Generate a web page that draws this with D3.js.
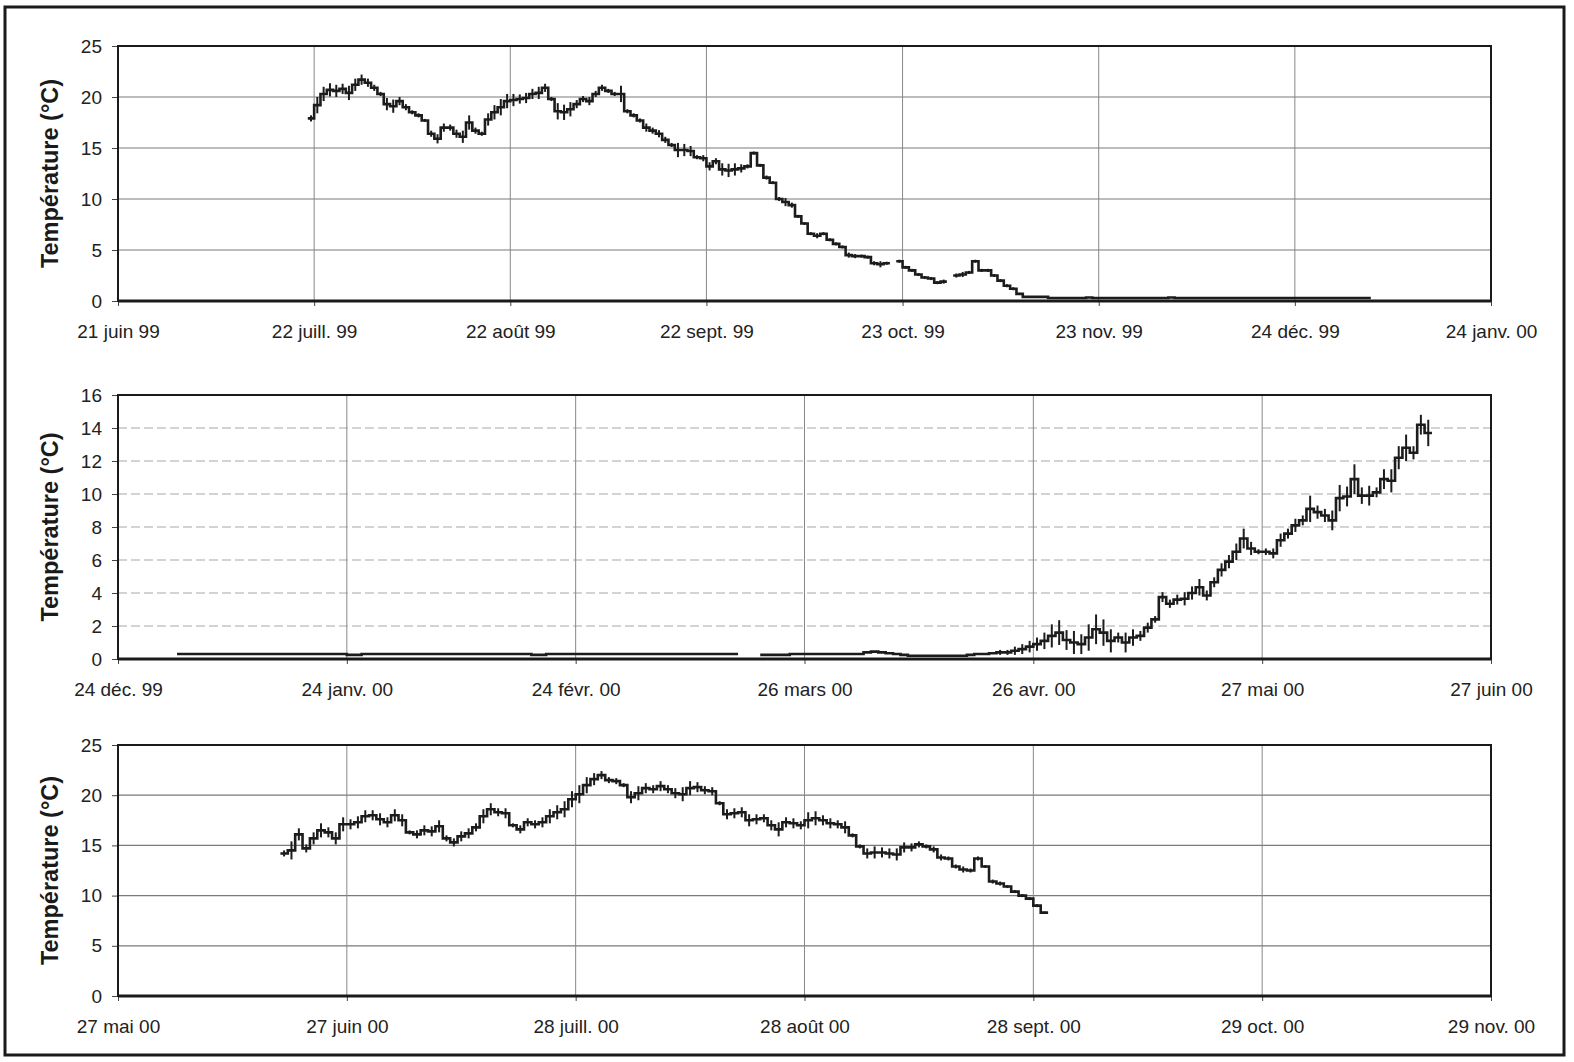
<!DOCTYPE html>
<html>
<head>
<meta charset="utf-8">
<script src="https://cdn.jsdelivr.net/npm/d3@7"></script>
<style>
  body { margin: 0; background: #fff; }
  svg { display: block; }
  .tick text { font-family: 'Liberation Sans', Arial, sans-serif; font-size: 19px; fill: #222; }
</style>
</head>
<body>
<svg id="vis" width="1574" height="1062"></svg>
<script>
// panel 1 : juillet 99 -> janvier 00, one value per day from p1Start
const p1Start = '1999-07-21';
const p1Mean = [
  17.9, 19.2, 20.3, 20.7, 20.6, 20.8, 20.4, 21.2, 21.7, 21.4,
  20.9, 20.3, 19.3, 19.1, 19.6, 19.0, 18.5, 18.2, 17.7, 16.4,
  15.9, 17.0, 17.0, 16.4, 16.1, 17.5, 16.7, 16.4, 17.8, 18.5,
  19.0, 19.6, 19.7, 19.8, 19.9, 20.3, 20.4, 20.9, 19.8, 18.6,
  18.5, 18.8, 19.3, 19.8, 19.6, 20.3, 20.9, 20.6, 20.3, 20.3,
  18.6, 18.2, 17.7, 17.0, 16.7, 16.4, 15.8, 15.3, 14.8, 14.8,
  14.7, 14.1, 14.0, 13.2, 13.7, 12.9, 12.8, 12.9, 13.0, 13.2,
  14.5, 13.3, 12.1, 11.6, 10.0, 9.7, 9.4, 8.3, 7.6, 6.6,
  6.4, 6.6, 6.0, 5.6, 5.3, 4.5, 4.4, 4.4, 4.3, 3.7,
  3.6, 3.7, null, 3.9, 3.3, 3.0, 2.6, 2.3, 2.2, 1.8,
  1.9, null, 2.5, 2.6, 2.8, 3.9, 3.0, 3.0, 2.5, 2.0,
  1.5, 1.2, 0.7, 0.4, 0.4, 0.4, 0.4, 0.3, 0.3, 0.3,
  0.3, 0.3, 0.3, 0.35, 0.3, 0.3, 0.3, 0.3, 0.3, 0.3,
  0.3, 0.3, 0.3, 0.3, 0.3, 0.3, 0.35, 0.3, 0.3, 0.3,
  0.3, 0.3, 0.3, 0.3, 0.3, 0.3, 0.3, 0.3, 0.3, 0.3,
  0.3, 0.3, 0.3, 0.3, 0.3, 0.3, 0.3, 0.3, 0.3, 0.3,
  0.3, 0.3, 0.3, 0.3, 0.3, 0.3, 0.3, 0.3
];
// daily min-max spread (°C), from p1Start
const p1Range = [
  0.6, 1.6, 1.4, 1.3, 1.2, 1.0, 1.4, 1.2, 1.0, 0.8,
  0.6, 0.4, 1.2, 1.3, 0.8, 0.6, 0.4, 0.4, 0.3, 0.6,
  0.9, 0.8, 0.6, 0.8, 1.2, 1.4, 0.6, 0.4, 1.2, 1.4,
  1.6, 1.4, 1.2, 0.9, 1.0, 1.0, 1.2, 0.8, 0.4, 1.6,
  1.5, 1.4, 0.8, 0.6, 0.8, 0.6, 0.6, 0.4, 0.4, 1.6,
  0.4, 0.4, 0.4, 0.8, 0.6, 0.7, 0.6, 0.4, 1.4, 1.2,
  1.0, 0.4, 0.6, 0.8, 0.6, 1.2, 1.3, 1.2, 0.8, 0.4,
  0.3, 0.3, 0.4, 0.3, 0.4, 0.8, 0.5, 0.3, 0.3, 0.3,
  0.5, 0.3, 0.3, 0.3, 0.3, 0.5, 0.4, 0.3, 0.3, 0.4,
  0.6, 0.3, 0, 0.3, 0.3, 0.3, 0.3, 0.3, 0.3, 0.3,
  0.4, 0, 0.4, 0.5, 0.3, 0.3, 0.3, 0.3, 0.3, 0.3,
  0.3, 0.3, 0.2
];
const p1TickDates = ['1999-06-21', '1999-07-22', '1999-08-22', '1999-09-22', '1999-10-23', '1999-11-23', '1999-12-24', '2000-01-24'];
const p1TickLabels = ['21 juin 99', '22 juill. 99', '22 août 99', '22 sept. 99', '23 oct. 99', '23 nov. 99', '24 déc. 99', '24 janv. 00'];
const p1YTicks = [0, 5, 10, 15, 20, 25];

// panel 2 : janvier 00 -> juin 00
const p2Start = '2000-01-01';
const p2Mean = [
  0.3, 0.3, 0.3,
  0.3, 0.3, 0.3, 0.3, 0.3, 0.3, 0.3, 0.3, 0.3, 0.3,
  0.3, 0.3, 0.3, 0.3, 0.3, 0.3, 0.3, 0.3, 0.3, 0.3,
  0.25, 0.25, 0.3, 0.3, 0.3, 0.3, 0.3, 0.3, 0.3, 0.3,
  0.3, 0.3, 0.3, 0.3, 0.3, 0.3, 0.3, 0.3, 0.3, 0.3,
  0.3, 0.3, 0.3, 0.3, 0.3, 0.25, 0.25, 0.3, 0.3, 0.3,
  0.3, 0.3, 0.3, 0.3, 0.3, 0.3, 0.3, 0.3, 0.3, 0.3,
  0.3, 0.3, 0.3, 0.3, 0.3, 0.3, 0.3, 0.3, 0.3, 0.3,
  0.3, 0.3, 0.3, null, null, null, 0.25, 0.25, 0.25, 0.25,
  0.3, 0.3, 0.3, 0.3, 0.3, 0.3, 0.3, 0.3, 0.3, 0.3,
  0.4, 0.45, 0.4, 0.35, 0.3, 0.25, 0.2, 0.2, 0.2, 0.2,
  0.2, 0.2, 0.2, 0.2, 0.25, 0.3, 0.3, 0.35,
  0.4, 0.4, 0.5, 0.6, 0.75, 0.9, 1.1, 1.4, 1.6, 1.15,
  1.0, 0.9, 1.3, 1.8, 1.6, 1.1, 1.3, 1.0, 1.3, 1.4,
  1.9, 2.4, 3.75, 3.35, 3.6, 3.65, 4.0, 4.35, 3.85, 4.65,
  5.4, 5.9, 6.5, 7.3, 6.7, 6.5, 6.5, 6.4, 7.2, 7.6,
  8.1, 8.4, 9.1, 8.9, 8.7, 8.4, 9.75, 9.85, 10.9, 9.9,
  9.9, 10.1, 10.9, 10.8, 12.2, 12.8, 12.5, 14.2, 13.7
];
const p2RangeStart = '2000-04-21';
const p2Range = [
  0.3, 0.3, 0.5, 0.6, 0.7, 0.8,
  1.0, 1.4, 1.5, 1.2, 1.4, 1.2, 1.6, 1.8, 1.6, 1.4,
  0.6, 1.2, 1.0, 0.6, 0.6, 0.4,
  0.6, 0.5, 0.6, 0.8, 0.8, 1.0, 0.6, 0.6, 0.8, 0.8,
  1.0, 1.2, 0.8, 0.3, 0.4, 0.6, 0.8, 0.6, 0.8, 0.6,
  1.6, 0.8, 0.8, 1.2, 1.6, 1.2, 1.8, 1.0, 1.2, 0.6,
  1.2, 1.4, 1.4, 1.6, 0.8, 1.2, 1.6
];
const p2TickDates = ['1999-12-24', '2000-01-24', '2000-02-24', '2000-03-26', '2000-04-26', '2000-05-27', '2000-06-27'];
const p2TickLabels = ['24 déc. 99', '24 janv. 00', '24 févr. 00', '26 mars 00', '26 avr. 00', '27 mai 00', '27 juin 00'];
const p2YTicks = [0, 2, 4, 6, 8, 10, 12, 14, 16];

// panel 3 : juin 00 -> septembre 00
const p3Start = '2000-06-18';
const p3Mean = [
  14.2, 14.5, 16.1, 14.7, 15.7, 16.5, 16.3, 15.7, 17.1, 17.1,
  17.3, 17.9, 18.0, 17.6, 17.3, 18.0, 17.5, 16.3, 16.1, 16.5,
  16.4, 16.9, 15.7, 15.3, 15.9, 16.2, 16.8, 17.9, 18.6, 18.3,
  18.2, 17.0, 16.6, 17.3, 17.1, 17.3, 17.9, 18.3, 18.6, 19.6,
  20.1, 21.0, 21.6, 22.0, 21.5, 21.4, 21.0, 19.8, 20.2, 20.7,
  20.6, 20.9, 20.6, 20.2, 20.1, 20.7, 20.8, 20.5, 20.4, 19.2,
  18.1, 18.2, 18.3, 17.5, 17.6, 17.7, 17.0, 16.6, 17.3, 17.2,
  17.0, 17.5, 17.7, 17.5, 17.2, 17.1, 16.8, 16.0, 14.9, 14.2,
  14.3, 14.3, 14.2, 14.1, 14.8, 14.8, 15.1, 14.9, 14.6, 13.8,
  13.7, 12.9, 12.6, 12.5, 13.7, 12.9, 11.4, 11.2, 10.9, 10.4,
  10.0, 9.7, 9.0, 8.3
];
const p3Range = [
  0.6, 1.8, 1.2, 0.8, 1.2, 1.4, 1.0, 1.2, 1.4, 1.0,
  1.2, 1.2, 1.0, 1.2, 1.0, 1.2, 1.2, 0.4, 0.8, 1.0,
  1.0, 1.2, 0.6, 0.8, 1.0, 1.0, 0.8, 1.4, 1.2, 0.8,
  1.0, 0.4, 0.8, 0.8, 0.8, 1.0, 1.4, 1.4, 1.6, 1.6,
  1.8, 1.6, 1.2, 0.8, 0.6, 0.6, 0.4, 1.2, 1.4, 1.0,
  0.8, 1.0, 0.8, 1.0, 1.4, 1.4, 1.0, 0.8, 0.8, 0.4,
  1.0, 1.0, 1.0, 1.2, 1.0, 0.8, 1.0, 1.4, 1.0, 1.0,
  0.8, 1.6, 1.4, 1.0, 1.0, 0.8, 1.2, 0.4, 0.4, 1.0,
  1.2, 1.0, 1.0, 1.2, 1.0, 0.8, 0.6, 0.4, 0.6, 0.6,
  0.4, 0.4, 0.6, 0.4, 0.4, 0.3, 0.4, 0.4, 0.3, 0.3,
  0.3, 0.3, 0.3, 0.2
];
const p3TickDates = ['2000-05-27', '2000-06-27', '2000-07-28', '2000-08-28', '2000-09-28', '2000-10-29', '2000-11-29'];
const p3TickLabels = ['27 mai 00', '27 juin 00', '28 juill. 00', '28 août 00', '28 sept. 00', '29 oct. 00', '29 nov. 00'];
const p3YTicks = [0, 5, 10, 15, 20, 25];

const parse = d3.utcParse('%Y-%m-%d');
const svg = d3.select('#vis');

svg.append('rect')
    .attr('x', 0).attr('y', 0).attr('width', 1574).attr('height', 1062)
    .attr('fill', '#fff');

svg.append('rect')
    .attr('x', 5).attr('y', 7).attr('width', 1559).attr('height', 1048)
    .attr('fill', 'none').attr('stroke', '#1a1a1a').attr('stroke-width', 3);

function renderPanel(p) {
    const left = 118, right = 1491;
    const tickDates = p.tickDates.map(parse);

    const x = d3.scaleUtc()
        .domain([tickDates[0], tickDates[tickDates.length - 1]])
        .range([left, right]);
    const y = d3.scaleLinear()
        .domain([0, d3.max(p.yTicks)])
        .range([p.bottom, p.top]);

    const g = svg.append('g');

    // gridlines
    g.selectAll('.hgrid')
        .data(p.yTicks.slice(1, -1))
        .enter()
        .append('line')
        .attr('x1', left).attr('x2', right)
        .attr('y1', d => y(d)).attr('y2', d => y(d))
        .attr('stroke', p.gridColor)
        .attr('stroke-width', 1.2)
        .attr('stroke-dasharray', p.gridDash);

    g.selectAll('.vgrid')
        .data(tickDates.slice(1, -1))
        .enter()
        .append('line')
        .attr('x1', d => x(d)).attr('x2', d => x(d))
        .attr('y1', p.top).attr('y2', p.bottom)
        .attr('stroke', '#888')
        .attr('stroke-width', 1);

    // axes
    const yAxis = g.append('g')
        .attr('transform', 'translate(' + left + ',0)')
        .call(d3.axisLeft(y).tickValues(p.yTicks).tickSize(6).tickPadding(10).tickFormat(d3.format('d')));
    yAxis.select('.domain').remove();
    yAxis.selectAll('line').attr('stroke', '#444');

    const xAxis = g.append('g')
        .attr('transform', 'translate(0,' + p.bottom + ')')
        .call(d3.axisBottom(x).tickValues(tickDates).tickSize(5).tickPadding(19)
            .tickFormat((d, i) => p.tickLabels[i]));
    xAxis.select('.domain').remove();
    xAxis.selectAll('line').attr('stroke', '#444');

    // plot frame
    g.append('rect')
        .attr('x', left).attr('y', p.top)
        .attr('width', right - left).attr('height', p.bottom - p.top)
        .attr('fill', 'none').attr('stroke', '#1a1a1a').attr('stroke-width', 2);
    g.append('line')
        .attr('x1', left).attr('x2', right)
        .attr('y1', p.bottom).attr('y2', p.bottom)
        .attr('stroke', '#1a1a1a').attr('stroke-width', 3);

    // daily step line
    const start = parse(p.start);
    const steps = [];
    p.mean.forEach((v, i) => {
        steps.push({ t: d3.utcDay.offset(start, i), v: v });
        steps.push({ t: d3.utcDay.offset(start, i + 1), v: v });
    });
    const line = d3.line()
        .defined(d => d.v !== null)
        .x(d => x(d.t))
        .y(d => y(d.v));
    g.append('path')
        .datum(steps)
        .attr('d', line)
        .attr('fill', 'none')
        .attr('stroke', '#1c1c1c')
        .attr('stroke-width', 2.6)
        .attr('stroke-linejoin', 'miter');

    // daily min-max bars
    const rStart = parse(p.rangeStart);
    const offset = d3.utcDay.count(start, rStart);
    const bars = p.range
        .map((r, i) => ({ t: d3.utcHour.offset(d3.utcDay.offset(rStart, i), 12), v: p.mean[i + offset], r: r }))
        .filter(d => d.r > 0 && d.v !== null && d.v !== undefined);
    g.selectAll('.bar')
        .data(bars)
        .enter()
        .append('line')
        .attr('x1', d => x(d.t)).attr('x2', d => x(d.t))
        .attr('y1', d => y(d.v - d.r / 2)).attr('y2', d => y(d.v + d.r / 2))
        .attr('stroke', '#1c1c1c')
        .attr('stroke-width', 2);

    // axis title
    g.append('text')
        .attr('transform', 'translate(50,' + ((p.top + p.bottom) / 2) + ') rotate(-90)')
        .attr('text-anchor', 'middle')
        .attr('dominant-baseline', 'central')
        .attr('font-family', "'Liberation Sans', Arial, sans-serif")
        .attr('font-size', '23.5px')
        .attr('font-weight', 'bold')
        .attr('fill', '#1a1a1a')
        .text('Température (°C)');
}

renderPanel({
    top: 46, bottom: 301,
    start: p1Start, mean: p1Mean, rangeStart: p1Start, range: p1Range,
    tickDates: p1TickDates, tickLabels: p1TickLabels, yTicks: p1YTicks,
    gridColor: '#7a7a7a', gridDash: null
});
renderPanel({
    top: 395, bottom: 659,
    start: p2Start, mean: p2Mean, rangeStart: p2RangeStart, range: p2Range,
    tickDates: p2TickDates, tickLabels: p2TickLabels, yTicks: p2YTicks,
    gridColor: '#a8a8a8', gridDash: '9,4'
});
renderPanel({
    top: 745, bottom: 996,
    start: p3Start, mean: p3Mean, rangeStart: p3Start, range: p3Range,
    tickDates: p3TickDates, tickLabels: p3TickLabels, yTicks: p3YTicks,
    gridColor: '#7a7a7a', gridDash: null
});
</script>
</body>
</html>
